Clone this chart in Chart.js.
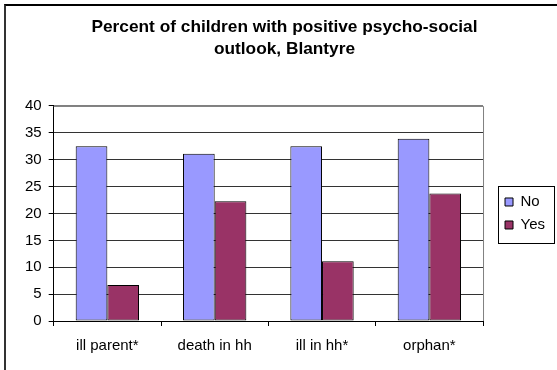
<!DOCTYPE html>
<html>
<head>
<meta charset="utf-8">
<script src="https://cdn.jsdelivr.net/npm/chart.js@4/dist/chart.umd.min.js"></script>
<style>
  body { margin: 0; background: #fff; }
  #wrap { position: relative; width: 557px; height: 370px; overflow: hidden; }
  #frame { position: absolute; left: 4px; top: 4px; width: 600px; height: 400px;
           border-left: 2px solid #333; border-top: 2px solid #000; }
  #chart { position: absolute; left: 0; top: 0; }
</style>
</head>
<body>
<div id="wrap">
  <div id="frame"></div>
  <canvas id="chart" width="557" height="370"></canvas>
</div>
<script>
// données
const categories = ["ill parent*", "death in hh", "ill in hh*", "orphan*"];
const noValues = [32.5, 31.1, 32.5, 33.9];
const yesValues = [6.7, 22.3, 11.1, 23.7];
const yTicks = [0, 5, 10, 15, 20, 25, 30, 35, 40];

document.addEventListener("DOMContentLoaded", function () {
    let canvas = document.getElementById("chart");
    const font = "'Liberation Sans', Arial, sans-serif";

    // petits décalages + cadre gris de la zone de tracé + cadre de la légende
    const extras = {
        id: "extras",
        afterLayout(chart) {
            chart.legend.left += 14;
            chart.legend.right += 14;
            chart.titleBlock.left += 5;
            chart.titleBlock.right += 5;
        },
        afterDraw(chart) {
            const ctx = chart.ctx;
            const a = chart.chartArea;
            ctx.save();
            ctx.strokeStyle = "#808080";
            ctx.lineWidth = 1;
            ctx.beginPath();
            ctx.moveTo(a.left, a.top + 0.5);
            ctx.lineTo(a.right + 0.5, a.top + 0.5);
            ctx.lineTo(a.right + 0.5, a.bottom);
            ctx.stroke();

            const boxes = chart.legend.legendHitBoxes;
            if (boxes && boxes.length) {
                let l = Math.min(...boxes.map(b => b.left));
                let t = Math.min(...boxes.map(b => b.top));
                ctx.strokeStyle = "#000";
                ctx.strokeRect(Math.round(l - 7) + 0.5, Math.round(t - 8) + 0.5, 56, 57);
            }
            ctx.restore();
        }
    };

    new Chart(canvas, {
        type: "bar",
        data: {
            labels: categories,
            datasets: [{
                label: "No",
                data: noValues,
                backgroundColor: "#9999FF",
                borderColor: "#000",
                borderWidth: 1,
                borderSkipped: false,
            }, {
                label: "Yes",
                data: yesValues,
                backgroundColor: "#993366",
                borderColor: "#000",
                borderWidth: 1,
                borderSkipped: false,
            }],
        },
        options: {
            responsive: false,
            animation: false,
            layout: { padding: { left: 18, right: 16, bottom: 4 } },
            datasets: { bar: { categoryPercentage: 0.59, barPercentage: 1.0 } },
            plugins: {
                title: {
                    display: true,
                    text: ["Percent of children with positive psycho-social", "outlook, Blantyre"],
                    font: { family: font, size: 17.3, weight: "bold", lineHeight: 1.3 },
                    color: "#000",
                    padding: { top: 16, bottom: 45 },
                },
                legend: {
                    position: "right",
                    fullSize: false,
                    labels: {
                        boxWidth: 8,
                        boxHeight: 8,
                        padding: 8,
                        color: "#000",
                        font: { family: font, size: 15 },
                    },
                },
                tooltip: { enabled: false },
            },
            scales: {
                x: {
                    grid: { display: true, drawOnChartArea: false, color: "#000", tickLength: 5 },
                    border: { color: "#000" },
                    ticks: {
                        color: "#000",
                        padding: 11,
                        maxRotation: 0,
                        font: { family: font, size: 15 },
                    },
                },
                y: {
                    min: 0,
                    max: 40,
                    afterBuildTicks: (axis) => { axis.ticks = yTicks.map(v => ({ value: v })); },
                    grid: {
                        color: (c) => c.tick && c.tick.value === 40 ? "#808080" : "#333",
                        tickColor: "#000",
                        tickLength: 5,
                    },
                    border: { color: "#000" },
                    ticks: {
                        color: "#000",
                        padding: 7,
                        font: { family: font, size: 15 },
                    },
                },
            },
        },
        plugins: [extras],
    });
});
</script>
</body>
</html>
